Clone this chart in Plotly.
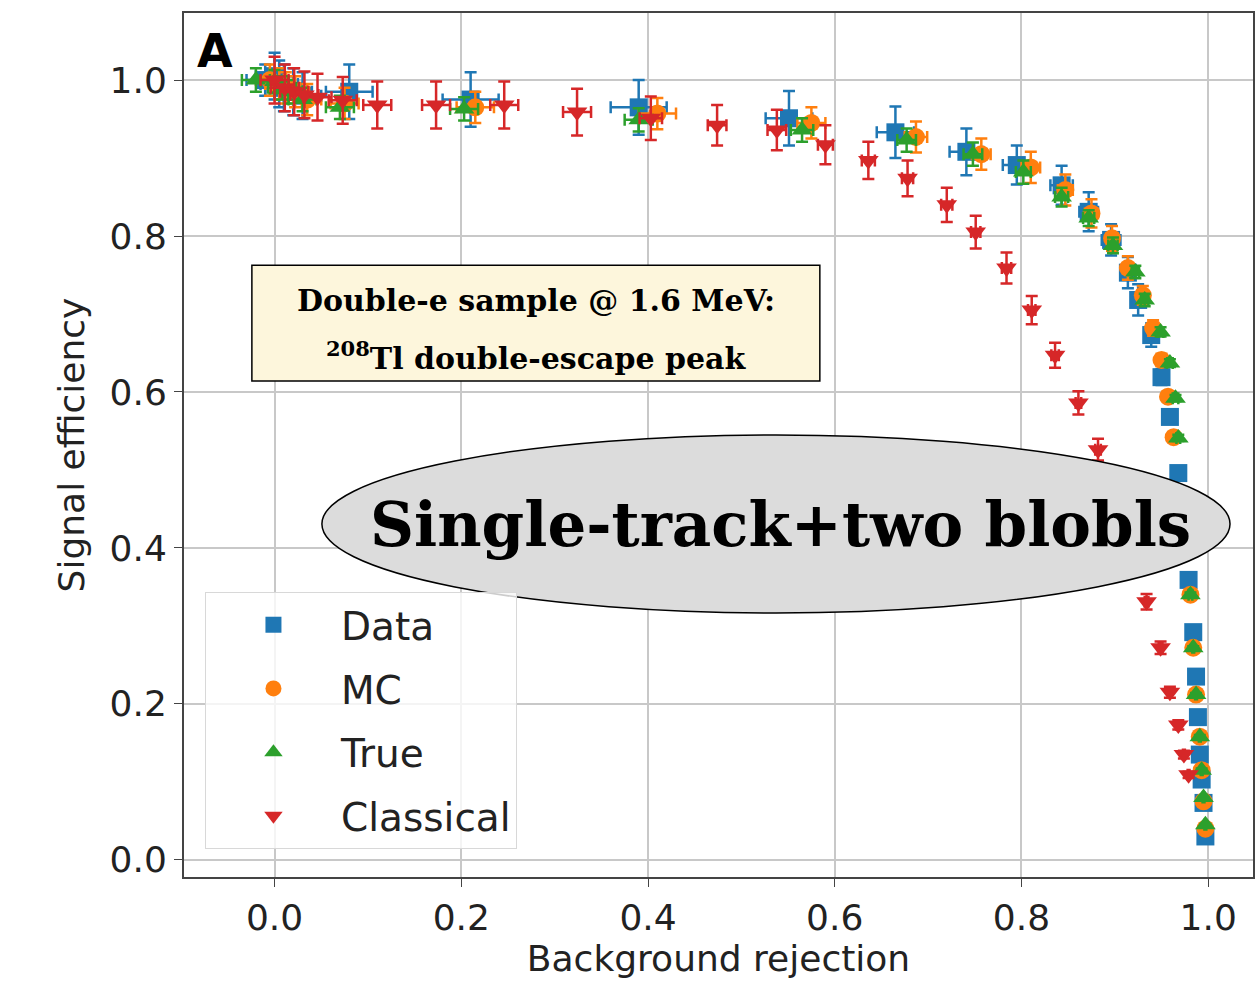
import plotly.graph_objects as go

# ---------------- data ----------------
data_x = [-0.01, 0.0, 0.005, 0.01, 0.02, 0.03, 0.08, 0.21, 0.39, 0.551, 0.665, 0.741, 0.795, 0.843, 0.872,
          0.896, 0.914, 0.925, 0.939, 0.950, 0.959, 0.968, 0.973, 0.976, 0.979, 0.984, 0.987, 0.989, 0.991,
          0.993, 0.995, 0.997]
data_y = [1.0, 1.005, 0.995, 0.99, 0.985, 0.98, 0.985, 0.975, 0.965, 0.951, 0.933, 0.908, 0.891, 0.865, 0.831,
          0.795, 0.753, 0.718, 0.673, 0.619, 0.568, 0.496, 0.45, 0.40, 0.359, 0.292, 0.235, 0.183, 0.135,
          0.103, 0.073, 0.03]
data_xerr = [0.02, 0.02, 0.02, 0.02, 0.02, 0.02, 0.025, 0.03, 0.03, 0.025, 0.02, 0.018, 0.015, 0.012, 0.01,
             0.01, 0.008, 0.007, 0.006, 0.005, 0.004, 0.004, 0.003, 0.003, 0.003, 0.002, 0.002, 0.002, 0.002,
             0.001, 0.001, 0.001]
data_yerr = [0.02, 0.03, 0.03, 0.03, 0.03, 0.03, 0.035, 0.035, 0.035, 0.035, 0.033, 0.03, 0.025, 0.025, 0.025,
             0.02, 0.02, 0.02, 0.015, 0.01, 0.008, 0.006, 0.005, 0.005, 0.004, 0.004, 0.004, 0.003, 0.003,
             0.003, 0.002, 0.002]

mc_x = [-0.005, 0.005, 0.012, 0.022, 0.035, 0.075, 0.215, 0.41, 0.575, 0.687, 0.757, 0.81, 0.847, 0.875, 0.897,
        0.914, 0.930, 0.941, 0.950, 0.957, 0.963, 0.969, 0.975, 0.981, 0.984, 0.987, 0.991, 0.993, 0.995, 0.997]
mc_y = [1.0, 0.995, 0.99, 0.985, 0.975, 0.97, 0.965, 0.957, 0.945, 0.927, 0.905, 0.888, 0.859, 0.829, 0.797,
        0.759, 0.724, 0.682, 0.641, 0.594, 0.542, 0.47, 0.40, 0.34, 0.272, 0.212, 0.158, 0.115, 0.075, 0.04]
mc_xerr = [0.015, 0.015, 0.015, 0.015, 0.015, 0.015, 0.02, 0.02, 0.015, 0.012, 0.01, 0.01, 0.008, 0.007, 0.006,
           0.005, 0.005, 0.004, 0.004, 0.003, 0.003, 0.003, 0.002, 0.002, 0.002, 0.002, 0.001, 0.001, 0.001, 0.001]
mc_yerr = [0.02, 0.02, 0.02, 0.02, 0.02, 0.02, 0.02, 0.02, 0.02, 0.02, 0.02, 0.02, 0.02, 0.018, 0.016,
           0.015, 0.012, 0.01, 0.008, 0.006, 0.005, 0.005, 0.004, 0.004, 0.003, 0.003, 0.003, 0.002, 0.002, 0.002]

true_x = [-0.02, 0.0, 0.008, 0.015, 0.03, 0.07, 0.203, 0.39, 0.565, 0.677, 0.748, 0.802, 0.843, 0.872, 0.898,
          0.922, 0.932, 0.949, 0.959, 0.965, 0.968, 0.973, 0.977, 0.981, 0.984, 0.987, 0.991, 0.993, 0.995, 0.997]
true_y = [1.0, 0.998, 0.99, 0.985, 0.975, 0.965, 0.963, 0.949, 0.936, 0.923, 0.905, 0.882, 0.850, 0.823, 0.788,
          0.754, 0.718, 0.677, 0.637, 0.592, 0.541, 0.47, 0.40, 0.34, 0.272, 0.212, 0.158, 0.115, 0.08, 0.045]
true_xerr = [0.015, 0.015, 0.015, 0.015, 0.015, 0.015, 0.015, 0.015, 0.012, 0.01, 0.01, 0.008, 0.007, 0.006, 0.005,
             0.004, 0.004, 0.003, 0.003, 0.003, 0.002, 0.002, 0.002, 0.002, 0.001, 0.001, 0.001, 0.001, 0.001, 0.001]
true_yerr = [0.015, 0.015, 0.015, 0.015, 0.015, 0.015, 0.015, 0.015, 0.015, 0.015, 0.015, 0.015, 0.012, 0.01, 0.01,
             0.008, 0.008, 0.006, 0.005, 0.004, 0.004, 0.003, 0.003, 0.003, 0.002, 0.002, 0.002, 0.002, 0.001, 0.001]

cl_x = [0.0, 0.011, 0.021, 0.032, 0.046, 0.073, 0.11, 0.173, 0.246, 0.324, 0.403, 0.474, 0.538, 0.590, 0.636,
        0.678, 0.720, 0.751, 0.784, 0.811, 0.836, 0.861, 0.882, 0.902, 0.918, 0.934, 0.949, 0.959, 0.968, 0.974,
        0.979]
cl_y = [1.0, 0.99, 0.985, 0.981, 0.978, 0.974, 0.968, 0.968, 0.968, 0.959, 0.951, 0.942, 0.936, 0.917, 0.897,
        0.874, 0.840, 0.805, 0.759, 0.705, 0.647, 0.586, 0.526, 0.465, 0.40, 0.331, 0.272, 0.215, 0.173, 0.135,
        0.109]
cl_xerr = [0.015, 0.015, 0.015, 0.015, 0.015, 0.015, 0.015, 0.015, 0.015, 0.015, 0.012, 0.01, 0.01, 0.008, 0.007,
           0.006, 0.006, 0.005, 0.005, 0.004, 0.004, 0.003, 0.003, 0.003, 0.002, 0.002, 0.002, 0.002, 0.002, 0.001,
           0.001]
cl_yerr = [0.03, 0.03, 0.03, 0.03, 0.03, 0.03, 0.03, 0.03, 0.03, 0.03, 0.028, 0.026, 0.026, 0.025, 0.024,
           0.023, 0.022, 0.021, 0.02, 0.018, 0.016, 0.015, 0.014, 0.012, 0.01, 0.01, 0.008, 0.007, 0.006, 0.005,
           0.004]

series = [
    ("Data", data_x, data_y, data_xerr, data_yerr, "#1f77b4", "square"),
    ("MC", mc_x, mc_y, mc_xerr, mc_yerr, "#ff7f0e", "circle"),
    ("True", true_x, true_y, true_xerr, true_yerr, "#2ca02c", "triangle-up"),
    ("Classical", cl_x, cl_y, cl_xerr, cl_yerr, "#d62728", "triangle-down"),
]

x_ticks = [0.0, 0.2, 0.4, 0.6, 0.8, 1.0]
y_ticks = [0.0, 0.2, 0.4, 0.6, 0.8, 1.0]

fig = go.Figure()
for name, xs, ys, xe, ye, col, sym in series:
    fig.add_trace(go.Scatter(
        x=xs, y=ys, mode="markers", name=name, legendgroup=name,
        marker=dict(color=col, symbol=sym, size=18, line=dict(width=0)),
        error_x=dict(type="data", array=xe, color=col, thickness=2.5, width=6),
        error_y=dict(type="data", array=ye, color=col, thickness=2.5, width=6),
    ))

font_sans = "DejaVu Sans"
fig.update_layout(
    width=1259, height=984,
    margin=dict(l=184, r=4, t=13, b=107),
    paper_bgcolor="white", plot_bgcolor="white",
    showlegend=True,
    legend=dict(x=0.0196, y=0.33, xanchor="left", yanchor="top",
                bgcolor="rgba(255,255,255,0.8)", bordercolor="#d8d8d8", borderwidth=1,
                font=dict(family=font_sans, size=39, color="#222"),
                traceorder="grouped", tracegroupgap=10, itemwidth=125),
    xaxis=dict(range=[-0.097, 1.048], tickvals=x_ticks, tickformat=".1f",
               showgrid=True, gridcolor="#c8c8c8", gridwidth=1.5, zeroline=False,
               showline=True, linecolor="#444", linewidth=2, mirror=True,
               ticks="outside", ticklen=8, tickcolor="#444",
               tickfont=dict(family=font_sans, size=36, color="#222"),
               title=dict(text="Background rejection", font=dict(family=font_sans, size=36, color="#222"),
                          standoff=4)),
    yaxis=dict(range=[-0.022, 1.086], tickvals=y_ticks, tickformat=".1f",
               showgrid=True, gridcolor="#c8c8c8", gridwidth=1.5, zeroline=False,
               showline=True, linecolor="#444", linewidth=2, mirror=True,
               ticks="outside", ticklen=8, tickcolor="#444",
               tickfont=dict(family=font_sans, size=36, color="#222"),
               title=dict(text="Signal efficiency", font=dict(family=font_sans, size=36, color="#222"),
                          standoff=14)),
)

# Panel letter
fig.add_annotation(xref="paper", yref="paper", x=0.01, y=0.99, xanchor="left", yanchor="top",
                   text="<b>A</b>", showarrow=False,
                   font=dict(family=font_sans, size=46, color="black"))

# Info box
fig.add_shape(type="rect", xref="paper", yref="paper", x0=0.0635, x1=0.5948, y0=0.574, y1=0.708,
              fillcolor="#fdf6dc", line=dict(color="black", width=1.5), layer="above")
fig.add_annotation(xref="paper", yref="paper", x=0.329, y=0.667, xanchor="center", yanchor="middle",
                   text="<b>Double-e sample @ 1.6 MeV:</b>",
                   showarrow=False, align="center",
                   font=dict(family="DejaVu Serif", size=30, color="black"))
fig.add_annotation(xref="paper", yref="paper", x=0.329, y=0.603, xanchor="center", yanchor="middle",
                   text="<b><sup>208</sup>Tl double-escape peak</b>",
                   showarrow=False, align="center",
                   font=dict(family="DejaVu Serif", size=30, color="black"))

# Ellipse label
fig.add_shape(type="circle", xref="paper", yref="paper", x0=0.129, x1=0.9785, y0=0.3056, y1=0.5116,
              fillcolor="#dcdcdc", line=dict(color="black", width=1.5), layer="above")
fig.add_annotation(xref="paper", yref="paper", x=0.558, y=0.408, xanchor="center", yanchor="middle",
                   text="<b>Single-track+two blobls</b>", showarrow=False,
                   font=dict(family="DejaVu Serif", size=61, color="black"))

fig.write_html("out.html")
